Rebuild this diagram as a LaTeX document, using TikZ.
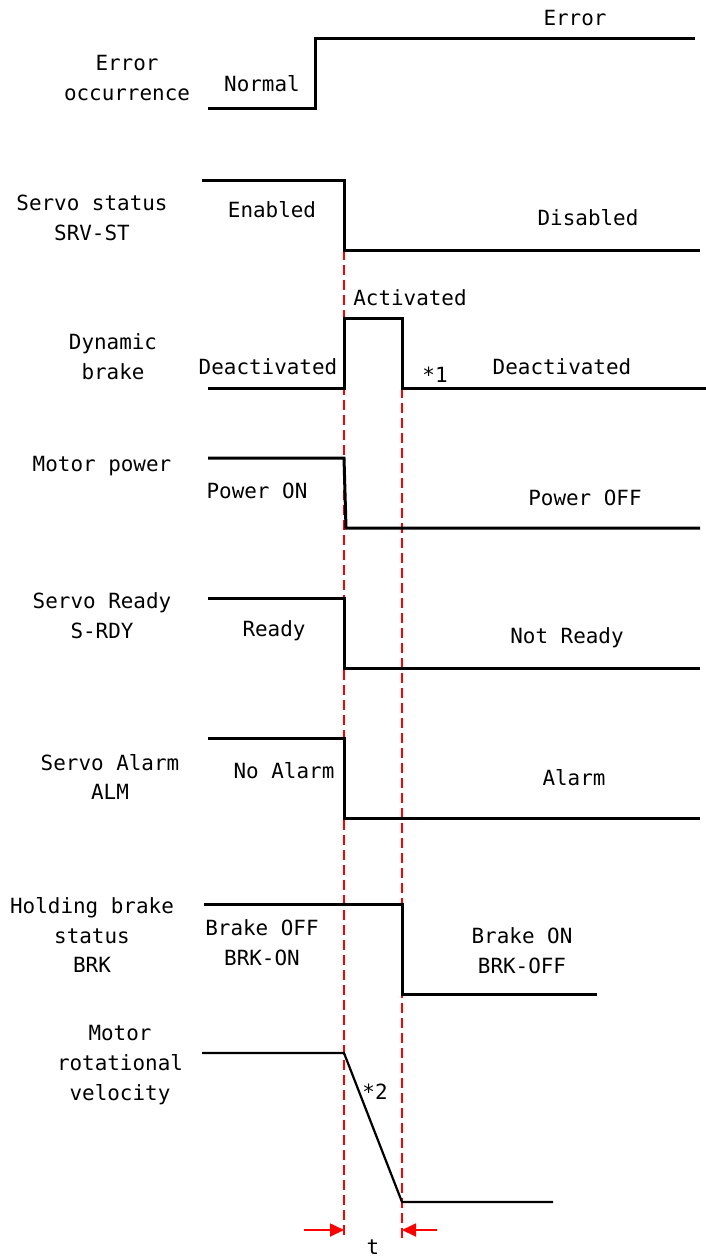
\documentclass[tikz,border=0pt]{standalone}
\usepackage{fontspec}
\setmonofont{DejaVu Sans Mono}
\usetikzlibrary{arrows.meta}
\tikzset{
  lbl/.style={font=\ttfamily\fontsize{21}{30}\selectfont, inner sep=0pt, align=center},
  sig/.style={line width=3bp, black},
  vel/.style={line width=2.2bp, black},
  guide/.style={red, line width=1.5bp, dash pattern=on 10bp off 5bp},
  tarrow/.style={red, line width=1.8bp, -{Triangle[length=14bp,width=13bp]}}
}
\begin{document}
\begin{tikzpicture}[x=1bp,y=-1bp]
\useasboundingbox (0,0) rectangle (706,1257);
% guides
\draw[guide] (344,250) -- (344,1240);
\draw[guide] (402,388) -- (402,1240);
% Error occurrence
\draw[sig] (208,108) -- (315,108) -- (315,38) -- (695,38);
\node[lbl] (eo) at (127,78) {Error\\occurrence};
\node[lbl] (err) at (575,18) {Error};
\node[lbl] (nor) at (262,84) {Normal};
% Servo status
\draw[sig] (202,180) -- (344,180) -- (344,250) -- (700,250);
\node[lbl] (ss) at (92,218) {Servo status\\SRV-ST};
\node[lbl] (en) at (272,210) {Enabled};
\node[lbl] (dis) at (588,218) {Disabled};
% Dynamic brake
\draw[sig] (208,388) -- (344,388) -- (344,318) -- (402,318) -- (402,388) -- (706,388);
\node[lbl] (db) at (113,357) {Dynamic\\brake};
\node[lbl] (act) at (410,298) {Activated};
\node[lbl] (dl) at (268,367) {Deactivated};
\node[lbl] (s1) at (435,375) {*1};
\node[lbl] (dr) at (562,367) {Deactivated};
% Motor power
\draw[sig] (208,458) -- (344,458) -- (346,528) -- (700,528);
\node[lbl] (mp) at (102,466) {Motor power};
\node[lbl] (pon) at (257,491) {Power ON};
\node[lbl] (poff) at (585,498) {Power OFF};
% Servo ready
\draw[sig] (208,598) -- (344,598) -- (344,668) -- (700,668);
\node[lbl] (sr) at (102,616) {Servo Ready\\S-RDY};
\node[lbl] (rdy) at (274,631) {Ready};
\node[lbl] (nrdy) at (567,638) {Not Ready};
% Servo alarm
\draw[sig] (208,738) -- (344,738) -- (344,818) -- (700,818);
\node[lbl] (sa) at (110,777) {Servo Alarm\\ALM};
\node[lbl] (nal) at (284,771) {No Alarm};
\node[lbl] (al) at (574,778) {Alarm};
% Holding brake
\draw[sig] (204,904) -- (402,904) -- (402,994) -- (597,994);
\node[lbl] (hb) at (92,935) {Holding brake\\status\\BRK};
\node[lbl] (boff) at (262,943) {Brake OFF\\BRK-ON};
\node[lbl] (bon) at (522,951) {Brake ON\\BRK-OFF};
% Motor rotational velocity
\draw[vel] (202,1053) -- (344,1053) -- (402,1202) -- (553,1202);
\node[lbl] (mv) at (120,1065) {Motor\\rotational\\velocity};
\node[lbl] (s2) at (375,1092) {*2};
% t arrows
\coordinate (la) at (304,1230);
\coordinate (lt) at (344,1230);
\coordinate (ra) at (437,1230);
\coordinate (rt) at (402,1230);
\draw[tarrow] (la) -- (lt);
\draw[tarrow] (ra) -- (rt);
\node[lbl, anchor=base] (t) at (373,1254) {t};
\end{tikzpicture}
\end{document}
